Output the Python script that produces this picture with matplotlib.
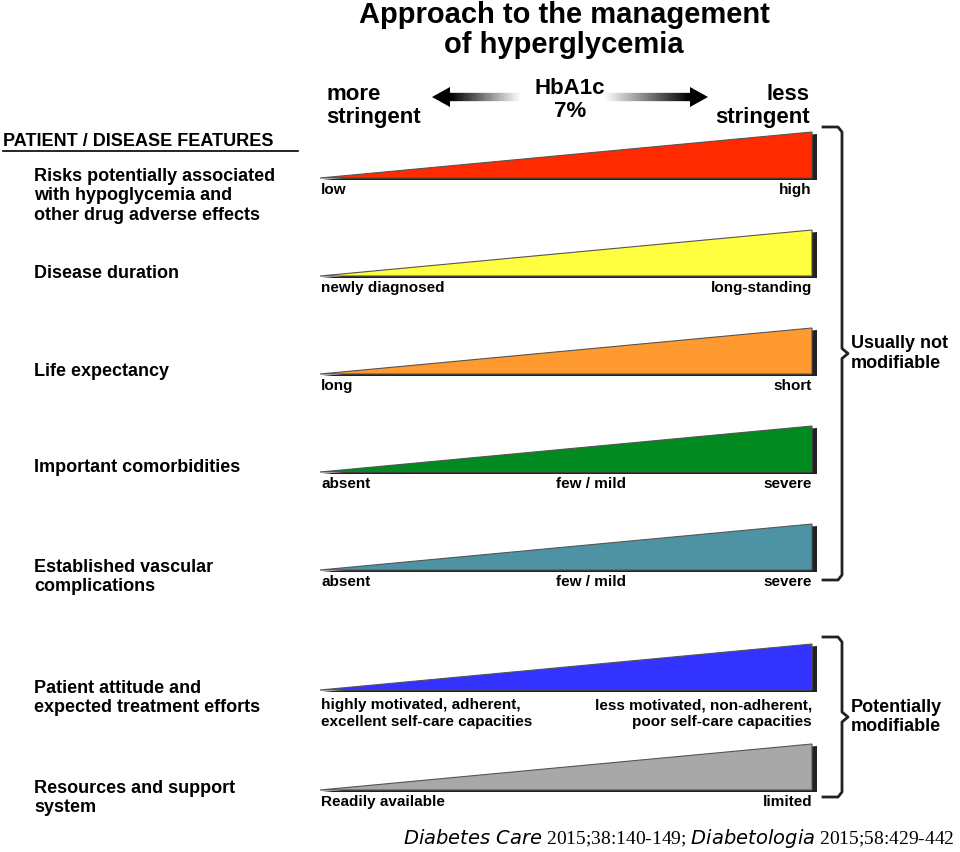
import matplotlib.pyplot as plt
import numpy as np
from matplotlib.patches import Polygon, FancyArrow

# row data (top to bottom)
features = ['Risks potentially associated\nwith hypoglycemia and\nother drug adverse effects',
            'Disease duration', 'Life expectancy', 'Important comorbidities',
            'Established vascular\ncomplications',
            'Patient attitude and\nexpected treatment efforts',
            'Resources and support\nsystem']
colors = ['#ff2a00', '#ffff40', '#ff9a30', '#008a20', '#4e93a3', '#3333ff', '#a8a8a8']
left_labels = ['low', 'newly diagnosed', 'long', 'absent', 'absent',
               'highly motivated, adherent,\nexcellent self-care capacities', 'Readily available']
mid_labels = ['', '', '', 'few / mild', 'few / mild', '', '']
right_labels = ['high', 'long-standing', 'short', 'severe', 'severe',
                'less motivated, non-adherent,\npoor self-care capacities', 'limited']
row_bottom = [178, 276, 374, 472, 570, 690, 790]
feature_y = [196, 273, 371, 468, 577, 698, 798]

FONT = 'Liberation Sans'
fig = plt.figure(figsize=(9.6, 8.52), dpi=100)
ax = fig.add_axes([0, 0, 1, 1])
ax.set_xlim(0, 960)
ax.set_ylim(852, 0)
ax.axis('off')

x0, x1, h = 320, 812, 46
for i, yb in enumerate(row_bottom):
    yt = yb - h
    # shadow
    ax.add_patch(Polygon([[x0 + 2, yb + 2], [x1 + 5, yt + 2], [x1 + 5, yb + 2]],
                         closed=True, fc='#222222', ec='none', zorder=1))
    ax.add_patch(Polygon([[x0, yb], [x1, yt], [x1, yb]], closed=True,
                         fc=colors[i], ec='#555555', lw=0.8, zorder=2))
    two = '\n' in left_labels[i]
    ly = yb + (8 if two else 12)
    va = 'top' if two else 'center'
    ax.text(x0 + 1, ly, left_labels[i], fontsize=11, fontweight='bold', family=FONT,
            va=va, ha='left', linespacing=1.25)
    ax.text(x1, ly, right_labels[i], fontsize=11, fontweight='bold', family=FONT,
            va=va, ha='right', linespacing=1.25, multialignment='right')
    if mid_labels[i]:
        ax.text(591, ly, mid_labels[i], fontsize=11, fontweight='bold', family=FONT,
                va=va, ha='center')
    ax.text(34, feature_y[i] if i else 196, features[i], fontsize=13, fontweight='bold',
            family=FONT, va='center', ha='left', linespacing=1.2)

ax.text(3, 141, 'PATIENT / DISEASE FEATURES', fontsize=13, fontweight='bold', family=FONT,
        va='center', ha='left')
ax.plot([3, 298], [151, 151], color='black', lw=1.2)

ax.text(564, 30, 'Approach to the management\nof hyperglycemia', fontsize=21, fontweight='bold',
        family=FONT, ha='center', va='center', linespacing=1.1)
ax.text(326, 106, 'more\nstringent', fontsize=16, fontweight='bold', family=FONT,
        ha='left', va='center', linespacing=1.15)
ax.text(810, 106, 'less\nstringent', fontsize=16, fontweight='bold', family=FONT,
        ha='right', va='center', linespacing=1.15, multialignment='right')
ax.text(570, 100, 'HbA1c\n7%', fontsize=16, fontweight='bold', family=FONT,
        ha='center', va='center', linespacing=1.1)

# gradient arrows
n = 60
for xs, xe, head in [(520, 450, 432), (605, 690, 708)]:
    xx = np.linspace(xs, xe, n + 1)
    for k in range(n):
        g = 1 - (k + 1) / n
        ax.plot(xx[k:k + 2], [97, 97], color=(g, g, g), lw=6, solid_capstyle='butt')
    ax.add_patch(Polygon([[xe, 87], [head, 97], [xe, 107]], closed=True, fc='black', ec='none'))

# brackets
def bracket(ya, yb, label):
    ym = (ya + yb) / 2
    xs = [823, 838, 842, 842, 848, 842, 842, 838, 823]
    ys = [ya, ya, ya + 5, ym - 5, ym, ym + 5, yb - 5, yb, yb]
    ax.plot(xs, ys, color='#222222', lw=2, solid_joinstyle='round')
    ax.text(851, ym, label, fontsize=13, fontweight='bold', family=FONT,
            ha='left', va='center', linespacing=1.2)

bracket(127, 580, 'Usually not\nmodifiable')
bracket(637, 797, 'Potentially\nmodifiable')

ax.text(955, 838, r'$\it{Diabetes\ Care}$ 2015;38:140-149; $\it{Diabetologia}$ 2015;58:429-442',
        fontsize=14, family='Liberation Serif', ha='right', va='center')
plt.rcParams['mathtext.fontset'] = 'custom'
fig.savefig('out.png', dpi=100)
